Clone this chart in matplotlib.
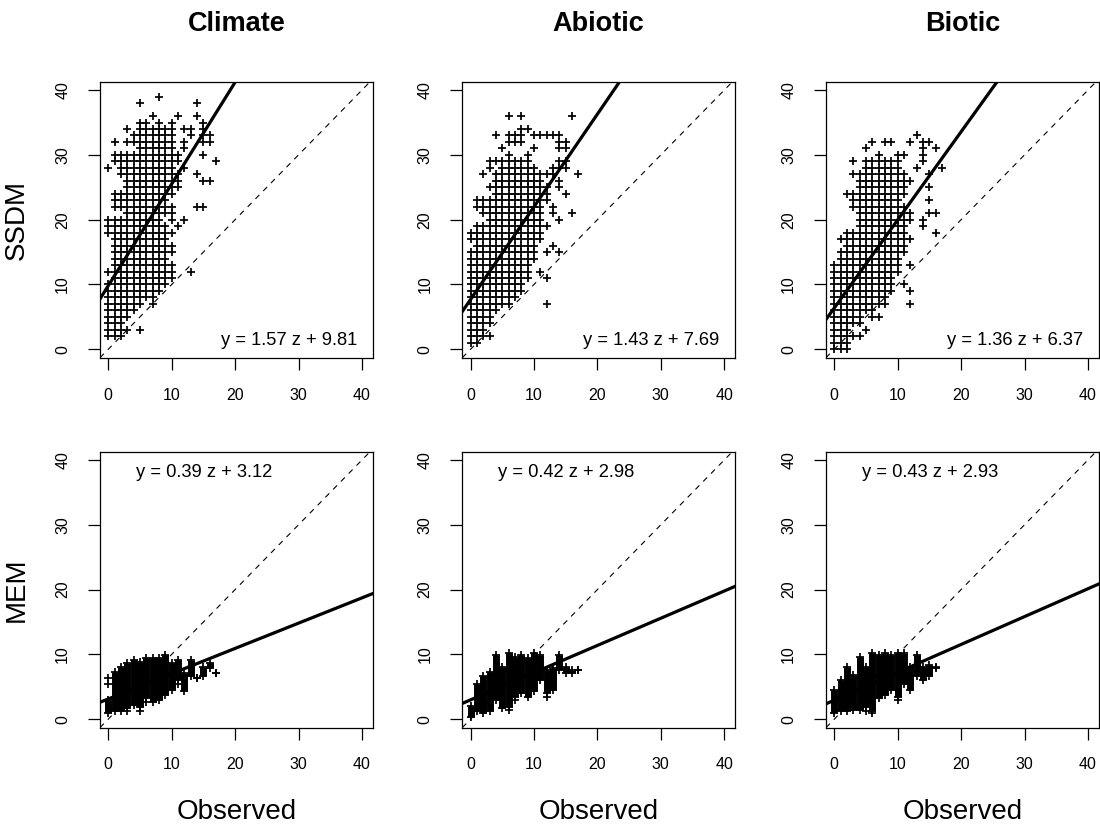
import matplotlib
matplotlib.use("Agg")
import matplotlib.pyplot as plt

plt.rcParams['font.family'] = ['Liberation Sans', 'DejaVu Sans']

# ---------------- data ----------------
column_titles = ["Climate", "Abiotic", "Biotic"]
row_labels = ["SSDM", "MEM"]
x_label = "Observed"
axis_ticks = [0, 10, 20, 30, 40]

ssdm_slope = [1.57, 1.43, 1.36]
ssdm_icept = [9.81, 7.69, 6.37]
mem_slope = [0.39, 0.42, 0.43]
mem_icept = [3.12, 2.98, 2.93]

# SSDM (integer grid): predicted value -> observed values present on that row
ssdm_climate = {
    39: "8", 38: "5 14", 36: "7 11 14", 35: "5 6 8 10 15",
    34: "3 5-10 12 13 15", 33: "4-10 13 15 16", 32: "1 3-10 12 15 16",
    31: "5-10 12", 30: "1-11 15", 29: "1-11 17", 28: "0 2-10 12",
    27: "2-11 14", 26: "3-11 15 16", 25: "3-11", 24: "1-10", 23: "1-9",
    22: "1-10 14 15", 21: "3-10", 20: "0-8 10 12", 19: "0-9 11",
    18: "0-10", 17: "1-9", 16: "1-10", 15: "1-10", 14: "1-9", 13: "1-10",
    12: "0-10 13", 11: "1-10", 10: "0-9", 9: "0-8", 8: "0-7", 7: "0-5 7",
    6: "0-4", 5: "0-3", 4: "0-2", 3: "0-3 5", 2: "0-2",
}
ssdm_abiotic = {
    36: "6 8 16", 34: "8 9", 33: "4 6-8 10-14", 32: "6-8 14 15",
    31: "5 10 14 15", 30: "6 9", 29: "3-9 14 15", 28: "3 5-10 13-15",
    27: "2 4-13 17", 26: "4-11 14", 25: "3-12 14", 24: "4-12 15",
    23: "1-12", 22: "1-11 13", 21: "2-11 13 16", 20: "3-11 14",
    19: "1-12", 18: "0-11", 17: "0-11", 16: "1-10 13", 15: "0-10 12 14",
    14: "0-10", 13: "0-9", 12: "0-9 11", 11: "0-9 12", 10: "0-8", 9: "0-8",
    8: "0-7", 7: "0-6 12", 6: "0-4", 5: "0-3", 4: "0-3", 3: "0-2",
    2: "0-3", 1: "0-1",
}
ssdm_biotic = {
    33: "13", 32: "6 8 9 12 14 15", 31: "5 14 16", 30: "7 10 11 14",
    29: "3 5-10 14", 28: "5-10 13 17", 27: "3-11 15", 26: "4-12",
    25: "4-11 15", 24: "2-11", 23: "3-10 15", 22: "3-11",
    21: "4-12 15 16", 20: "4-12 14", 19: "4-11 14", 18: "2-11 16",
    17: "1-12", 16: "2-11", 15: "1-11", 14: "1-10", 13: "0-10 12",
    12: "0-10", 11: "0-9", 10: "0-9 11", 9: "0-9 12", 8: "0-8",
    7: "0-8 12", 6: "0-6", 5: "0-4 6 7", 4: "0-4", 3: "0-2 5",
    2: "0-4", 1: "0-2", 0: "0-2",
}

# MEM (continuous predictions): per observed value, lowest / highest prediction
mem_x = [0, 1, 2, 3, 4, 5, 6, 7, 8, 9, 10, 11, 12, 13, 14, 15, 16, 17]
mem_climate_lo = [1.0, 1.2, 1.2, 1.7, 2.2, 1.9, 3.2, 2.7, 3.0, 3.7, 4.5, 6.1, 4.3, 6.6, 6.3, 6.6, 7.9, 7.1]
mem_climate_hi = [3.0, 7.3, 8.1, 8.6, 9.1, 8.9, 9.4, 9.4, 9.4, 9.9, 8.6, 9.1, 7.1, 9.1, 6.3, 8.1, 8.6, 7.1]
mem_climate_extra_x = [0, 0, 3, 5, 6, 11]
mem_climate_extra_y = [5.5, 6.3, 1.2, 1.2, 2.7, 5.5]

mem_abiotic_lo = [0.3, 1.2, 0.9, 1.2, 3.0, 1.7, 1.9, 3.5, 4.0, 3.5, 4.3, 6.1, 4.0, 4.5, 7.6, 7.1, 7.1, 7.6]
mem_abiotic_hi = [2.0, 5.5, 6.6, 7.3, 9.9, 8.1, 10.2, 9.6, 9.9, 9.4, 10.2, 9.9, 7.6, 7.9, 9.9, 8.1, 7.6, 7.6]
mem_abiotic_extra_x = [6, 7, 12]
mem_abiotic_extra_y = [1.4, 2.9, 3.4]

mem_biotic_x = [0, 1, 2, 3, 4, 5, 6, 7, 8, 9, 10, 11, 12, 13, 14, 15, 16]
mem_biotic_lo = [0.9, 1.2, 1.2, 1.4, 1.4, 1.9, 1.2, 3.2, 3.7, 4.5, 3.5, 5.5, 4.5, 6.6, 6.1, 6.6, 7.9]
mem_biotic_hi = [4.5, 6.1, 8.1, 6.8, 9.6, 8.1, 10.2, 9.9, 10.2, 9.9, 10.2, 10.2, 8.1, 9.9, 8.1, 8.4, 8.1]
mem_biotic_extra_x = [5, 6, 10]
mem_biotic_extra_y = [1.2, 0.9, 2.9]

# ---------------- drawing ----------------
W, H = 1100, 825
fig = plt.figure(figsize=(W / 100, H / 100), dpi=100)

col_left = [100, 462.3, 826]
row_top = [81.7, 451.6]
box_w, box_h = 272.7, 276.0


def px_axes(left, top):
    return fig.add_axes([left / W, 1 - (top + box_h) / H, box_w / W, box_h / H])


def expand(rows):
    xs, ys = [], []
    for y, spec in rows.items():
        for tok in spec.split():
            if '-' in tok:
                a, b = map(int, tok.split('-'))
                vals = range(a, b + 1)
            else:
                vals = [int(tok)]
            for v in vals:
                xs.append(v)
                ys.append(y)
    return xs, ys


def style(ax):
    ax.set_xlim(-1.3, 41.7)
    ax.set_ylim(-1.3, 41.3)
    ax.set_xticks(axis_ticks)
    ax.set_yticks(axis_ticks)
    ax.tick_params(direction='out', length=8.5, width=0.9, pad=13,
                   labelsize=11.5, colors='black')
    for lab in ax.get_yticklabels():
        lab.set_rotation(90)
        lab.set_va('center')
    for s in ax.spines.values():
        s.set_linewidth(0.9)
        s.set_color('black')


def lines(ax, slope, icept):
    ax.axline((0, 0), slope=1, color='black', lw=0.8, dashes=(5, 5), zorder=4)
    ax.axline((0, icept), slope=slope, color='black', lw=2.3, zorder=5)


ssdm_sets = [ssdm_climate, ssdm_abiotic, ssdm_biotic]
mem_sets = [
    (mem_x, mem_climate_lo, mem_climate_hi, mem_climate_extra_x, mem_climate_extra_y),
    (mem_x, mem_abiotic_lo, mem_abiotic_hi, mem_abiotic_extra_x, mem_abiotic_extra_y),
    (mem_biotic_x, mem_biotic_lo, mem_biotic_hi, mem_biotic_extra_x, mem_biotic_extra_y),
]

ms, mew = 5.2, 1.25
for j in range(3):
    # SSDM row
    ax = px_axes(col_left[j], row_top[0])
    xs, ys = expand(ssdm_sets[j])
    ax.plot(xs, ys, linestyle='none', marker='+', ms=ms, mew=mew, color='black', zorder=3)
    lines(ax, ssdm_slope[j], ssdm_icept[j])
    ax.text(28.5, 1.4, f"y = {ssdm_slope[j]:.2f} z + {ssdm_icept[j]:.2f}",
            ha='center', va='center', fontsize=13.2)
    style(ax)

    # MEM row
    ax = px_axes(col_left[j], row_top[1])
    mx, lo, hi, ex, ey = mem_sets[j]
    ax.vlines(mx, lo, hi, colors='black', lw=5.0, zorder=3)
    ax.plot(mx, lo, linestyle='none', marker='+', ms=ms, mew=mew, color='black', zorder=3)
    ax.plot(mx, hi, linestyle='none', marker='+', ms=ms, mew=mew, color='black', zorder=3)
    ax.plot(ex, ey, linestyle='none', marker='+', ms=ms, mew=mew, color='black', zorder=3)
    lines(ax, mem_slope[j], mem_icept[j])
    ax.text(15.1, 38.0, f"y = {mem_slope[j]:.2f} z + {mem_icept[j]:.2f}",
            ha='center', va='center', fontsize=13.2)
    style(ax)

    cx = (col_left[j] + box_w / 2) / W
    fig.text(cx, 1 - 24 / H, column_titles[j], ha='center', va='center',
             fontsize=19.5, fontweight='bold')
    fig.text(cx, 1 - 811.7 / H, x_label, ha='center', va='center', fontsize=20)

for i, lab in enumerate(row_labels):
    cy = 1 - (row_top[i] + box_h / 2) / H
    fig.text(17 / W, cy, lab, ha='center', va='center', rotation=90, fontsize=20)

fig.savefig("out.png", dpi=100, facecolor='white')
